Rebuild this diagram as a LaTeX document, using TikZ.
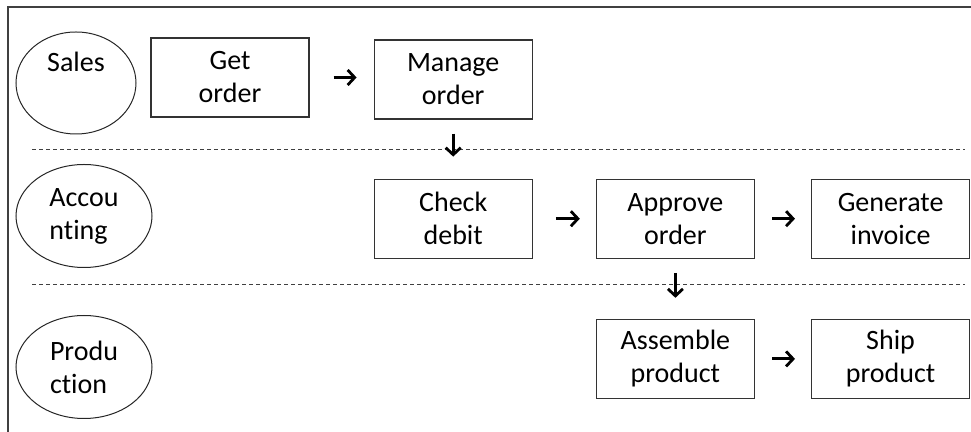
\documentclass[tikz,border=0pt]{standalone}
\usepackage{fontspec}
\setmainfont{Carlito}[Ligatures=NoCommon]
\usetikzlibrary{shapes.geometric, arrows.meta, positioning}

\begin{document}
\begin{tikzpicture}[
        x=0.5pt, y=-0.5pt,
        every node/.style={font=\fontsize{14pt}{16.5pt}\selectfont},
        lane/.style={ellipse, draw, black!85, text=black, line width=0.5pt, minimum width=68pt, minimum height=51.5pt, inner sep=0pt, align=left},
        task/.style={rectangle, draw, black!80, text=black, line width=0.6pt, minimum width=79pt, minimum height=39.5pt, inner sep=0pt, align=center},
        flow/.style={-{Straight Barb[length=3.5pt, width=7.5pt]}, line width=1.4pt},
        lanesep/.style={black!75, line width=0.5pt, dash pattern=on 2pt off 1.5pt},
        frame/.style={black!75, line width=0.8pt}
    ]
        \useasboundingbox (0,0) rectangle (971,432);
        \draw[frame] (8,432) -- (8,7) -- (971,7);

        % Sales lane
        \node[lane, minimum width=60pt, minimum height=51pt] (sales) at (76,83) {Sales\\\strut};
        \node[task] (get) at (230,77.5) {Get\\order};
        \node[task, right=32pt of get, yshift=-1pt] (manage) {Manage\\order};

        \draw[flow, shorten <=12pt, shorten >=8.5pt] (get.east) -- (get.east -| manage.west);

        \draw[lanesep] (32,150) -- (965,150);

        % Accounting lane
        \node[lane] (accounting) at (84,216) {Accou\\nting};
        \node[task, below=29.5pt of manage] (check) {Check\\debit};
        \node[task, right=31.5pt of check] (approve) {Approve\\order};
        \node[task, right=28pt of approve] (invoice) {Generate\\invoice};

        \draw[flow, shorten <=7pt, shorten >=11pt] (manage) -- (check);
        \draw[flow, shorten <=11.5pt, shorten >=8pt] (check.east) -- (check.east -| approve.west);
        \draw[flow, shorten <=8.5pt, shorten >=8pt] (approve.east) -- (approve.east -| invoice.west);

        \draw[lanesep] (32,284.5) -- (965,284.5);

        % Production lane
        \node[lane] (production) at (84,367) {Produ\\ction};
        \node[task, below=30pt of approve] (assemble) {Assemble\\product};
        \node[task, right=28pt of assemble] (ship) {Ship\\product};

        \draw[flow, shorten <=7pt, shorten >=10.5pt] (approve) -- (assemble);
        \draw[flow, shorten <=8.5pt, shorten >=8pt] (assemble.east) -- (assemble.east -| ship.west);
    \end{tikzpicture}
\end{document}
